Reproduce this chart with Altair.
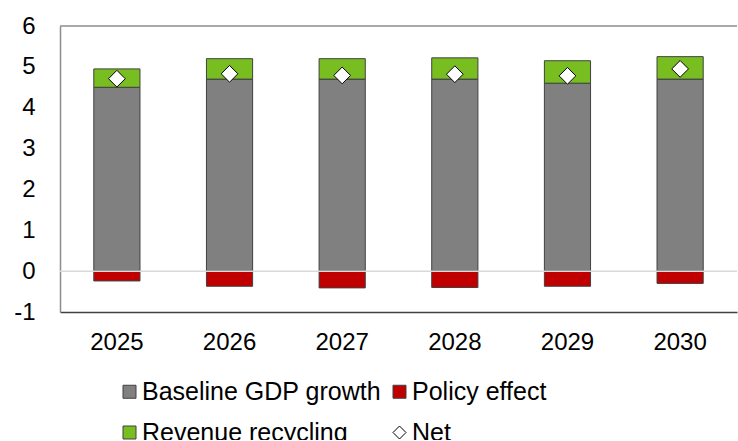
import altair as alt
import pandas as pd

# Contributions to GDP growth (percentage points) by year
years = ["2025", "2026", "2027", "2028", "2029", "2030"]
baseline = [4.5, 4.7, 4.7, 4.7, 4.6, 4.7]
policy = [-0.24, -0.37, -0.41, -0.40, -0.37, -0.30]
recycling = [0.45, 0.50, 0.50, 0.52, 0.55, 0.55]
net = [4.71, 4.83, 4.79, 4.82, 4.78, 4.95]

# Legend fills column by column: first column Baseline / Revenue, second Policy / Net
series = ["Baseline GDP growth", "Revenue recycling", "Policy effect", "Net"]
colors = ["#808080", "#78BE20", "#C00000", "#FFFFFF"]

rows = []
for i, y in enumerate(years):
    rows.append({"year": y, "series": "Baseline GDP growth", "value": baseline[i], "order": 0})
    rows.append({"year": y, "series": "Policy effect", "value": policy[i], "order": 1})
    rows.append({"year": y, "series": "Revenue recycling", "value": recycling[i], "order": 2})
bars_df = pd.DataFrame(rows)
net_df = pd.DataFrame({"year": years, "series": "Net", "value": net})

FONT = "Liberation Sans"

x_enc = alt.X(
    "year:N",
    sort=years,
    title=None,
    scale=alt.Scale(paddingInner=0.59, paddingOuter=0.3),
    axis=alt.Axis(
        labelAngle=0, labelFontSize=24, labelFont=FONT, labelColor="black",
        ticks=False, labelPadding=18, domainColor="#404040", domainWidth=1.5,
    ),
)
y_scale = alt.Scale(domain=[-1, 6], nice=False, zero=False)

legend = alt.Legend(
    title=None,
    orient="none",
    legendX=57,
    legendY=353,
    columns=2,
    columnPadding=5,
    rowPadding=15,
    labelFont=FONT,
    labelFontSize=25,
    labelColor="black",
    labelLimit=0,
    labelOffset=0,
    symbolSize=169,
    symbolStrokeWidth=1,
    symbolType=alt.ExprRef("datum.value === 'Net' ? 'diamond' : 'square'"),
    symbolStrokeColor=alt.ExprRef("datum.value === 'Net' ? '#000000' : '#404040'"),
    padding=0,
)

color_enc = alt.Color(
    "series:N",
    scale=alt.Scale(domain=series, range=colors),
    legend=legend,
)

bars = alt.Chart(bars_df).mark_bar(stroke="#404040", strokeWidth=1).encode(
    x=x_enc,
    y=alt.Y(
        "value:Q",
        stack="zero",
        scale=y_scale,
        title=None,
        axis=alt.Axis(
            values=[-1, 0, 1, 2, 3, 4, 5, 6], labelExpr="'' + datum.value",
            grid=False, ticks=False,
            labelFontSize=24, labelFont=FONT, labelColor="black", labelPadding=25,
            domainColor="#8C8C8C", domainWidth=1.5,
        ),
    ),
    color=color_enc,
    order=alt.Order("order:Q"),
)

zero_line = alt.Chart(pd.DataFrame({"v": [0]})).mark_rule(
    color="#D9D9D9", strokeWidth=1.5
).encode(y=alt.Y("v:Q", scale=y_scale))

top_line = alt.Chart(pd.DataFrame({"v": [6]})).mark_rule(
    color="#8C8C8C", strokeWidth=1.5
).encode(y=alt.Y("v:Q", scale=y_scale))

net_points = alt.Chart(net_df).mark_point(
    shape="diamond", filled=True, size=280, stroke="black", strokeWidth=1, opacity=1
).encode(
    x=x_enc,
    y=alt.Y("value:Q", scale=y_scale),
    color=color_enc,
)

chart = alt.layer(bars, zero_line, top_line, net_points).properties(
    width=677,
    height=286,
    autosize="none",
    padding={"left": 60, "top": 26, "right": 1, "bottom": 128},
).configure_view(stroke=None)

chart.save("out.html", embed_options={"renderer": "svg", "actions": False})
